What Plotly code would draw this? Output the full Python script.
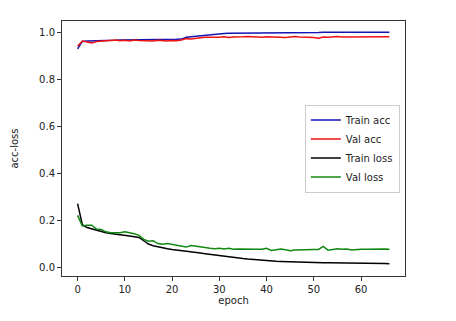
import plotly.graph_objects as go

# courbes d'apprentissage (67 epochs)
epochs = list(range(67))

train_acc = [0.928, 0.960, 0.962, 0.962, 0.963, 0.964, 0.964, 0.965, 0.965, 0.966,
             0.966, 0.966, 0.967, 0.967, 0.967, 0.967, 0.968, 0.968, 0.968, 0.968,
             0.969, 0.969, 0.970, 0.978, 0.980, 0.982, 0.985, 0.989, 0.991, 0.992,
             0.993, 0.994, 0.995, 0.995, 0.996, 0.996, 0.997, 0.997, 0.997, 0.997,
             0.998, 0.998, 0.998, 0.998, 0.998, 0.998, 0.998, 0.998, 0.998, 0.998,
             0.998, 0.998, 0.999, 0.999, 0.999, 0.999, 0.999, 0.999, 0.999, 0.999,
             0.999, 0.999, 0.999, 0.999, 0.999, 0.999, 0.999]

val_acc = [0.940, 0.962, 0.958, 0.954, 0.960, 0.962, 0.965, 0.964, 0.966, 0.963,
           0.965, 0.962, 0.966, 0.964, 0.963, 0.964, 0.962, 0.965, 0.963, 0.962,
           0.964, 0.963, 0.966, 0.972, 0.970, 0.974, 0.976, 0.978, 0.977, 0.979,
           0.978, 0.980, 0.977, 0.979, 0.978, 0.980, 0.981, 0.979, 0.980, 0.978,
           0.980, 0.979, 0.981, 0.980, 0.977, 0.979, 0.981, 0.979, 0.978, 0.980,
           0.977, 0.974, 0.979, 0.978, 0.980, 0.981, 0.979, 0.979, 0.980, 0.981,
           0.979, 0.979, 0.980, 0.980, 0.980, 0.980, 0.980]

train_loss = [0.270, 0.180, 0.168, 0.162, 0.155, 0.150, 0.146, 0.143, 0.141, 0.138,
              0.135, 0.132, 0.129, 0.126, 0.112, 0.098, 0.091, 0.086, 0.082, 0.078,
              0.075, 0.073, 0.071, 0.069, 0.066, 0.063, 0.060, 0.057, 0.054, 0.051,
              0.048, 0.046, 0.043, 0.041, 0.038, 0.036, 0.034, 0.032, 0.030, 0.028,
              0.027, 0.026, 0.025, 0.024, 0.023, 0.022, 0.021, 0.021, 0.020, 0.020,
              0.019, 0.019, 0.018, 0.018, 0.018, 0.017, 0.017, 0.017, 0.016, 0.016,
              0.016, 0.016, 0.015, 0.015, 0.015, 0.015, 0.014]

val_loss = [0.220, 0.175, 0.178, 0.178, 0.162, 0.160, 0.150, 0.146, 0.146, 0.146,
            0.150, 0.147, 0.142, 0.135, 0.118, 0.110, 0.112, 0.100, 0.097, 0.100,
            0.096, 0.092, 0.090, 0.085, 0.092, 0.088, 0.085, 0.083, 0.080, 0.078,
            0.080, 0.077, 0.080, 0.076, 0.077, 0.076, 0.076, 0.075, 0.076, 0.076,
            0.080, 0.071, 0.073, 0.077, 0.074, 0.070, 0.073, 0.074, 0.075, 0.077,
            0.075, 0.075, 0.088, 0.072, 0.074, 0.078, 0.076, 0.077, 0.073, 0.076,
            0.076, 0.076, 0.077, 0.077, 0.077, 0.077, 0.076]

fig = go.Figure()
fig.add_trace(go.Scatter(x=epochs, y=train_acc, name='Train acc', mode='lines', line=dict(color='#1515b5', width=1.5)))
fig.add_trace(go.Scatter(x=epochs, y=val_acc, name='Val acc', mode='lines', line=dict(color='#ee1111', width=1.5)))
fig.add_trace(go.Scatter(x=epochs, y=train_loss, name='Train loss', mode='lines', line=dict(color='black', width=1.5)))
fig.add_trace(go.Scatter(x=epochs, y=val_loss, name='Val loss', mode='lines', line=dict(color='#118811', width=1.5)))

axe = dict(showgrid=False, zeroline=False, showline=True, linecolor='#333333', linewidth=1,
           mirror=True, ticks='outside', ticklen=4, tickcolor='#333333',
           tickfont=dict(size=10, color='#222222'), automargin=False)

# la page a une marge de 8px, donc on reduit la figure d'autant
fig.update_layout(
    width=448, height=313,
    margin=dict(l=54, r=51, t=13, b=45),
    paper_bgcolor='white', plot_bgcolor='white',
    font=dict(family='DejaVu Sans', size=10, color='#222222'),
    xaxis=dict(axe, range=[-3.3, 69.3], tickvals=[0, 10, 20, 30, 40, 50, 60],
               title=dict(text='epoch', font=dict(size=10), standoff=1)),
    yaxis=dict(axe, range=[-0.038, 1.047], tickvals=[0.0, 0.2, 0.4, 0.6, 0.8, 1.0], tickformat='.1f',
               title=dict(text='acc-loss', font=dict(size=10), standoff=18)),
    legend=dict(x=0.985, y=0.5, xanchor='right', yanchor='middle',
                bgcolor='white', bordercolor='#cccccc', borderwidth=1,
                font=dict(size=10), tracegroupgap=0, itemwidth=30),
    showlegend=True,
)

fig.write_html("out.html")
